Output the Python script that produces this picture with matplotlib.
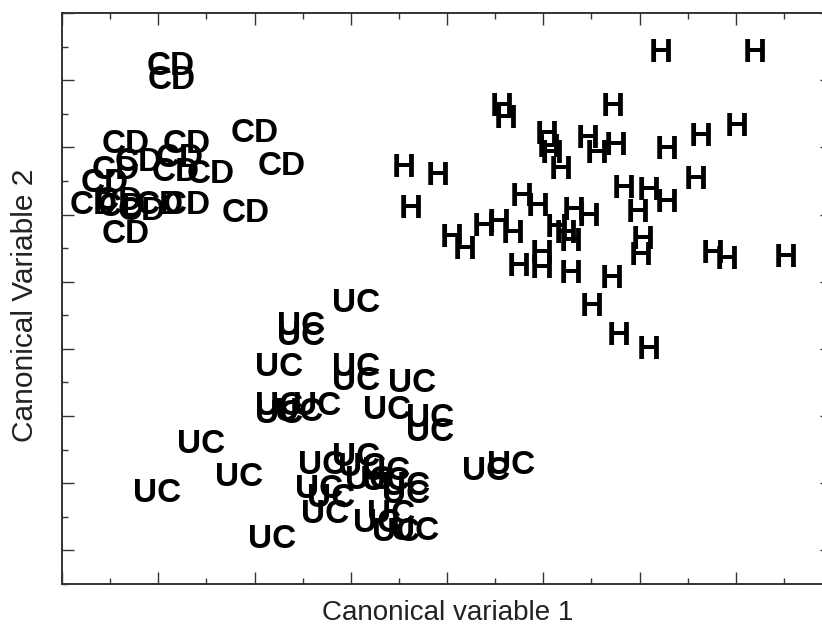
import matplotlib
matplotlib.use("Agg")
import matplotlib.pyplot as plt
from matplotlib.ticker import MultipleLocator

plt.rcParams['font.family'] = ['Liberation Sans', 'DejaVu Sans']

# canonical scores per group (variable 1, variable 2)
cd_x = [-2.87, -2.86, -2.00, -1.72, -2.09, -3.34, -2.70, -2.78, -3.20, -2.82,
        -2.45, -3.44, -3.56, -3.67, -3.41, -3.38, -3.17, -2.70, -3.34, -2.99]
cd_y = [3.21, 2.99, 2.20, 1.72, 1.02, 2.04, 2.04, 1.84, 1.77, 1.62,
        1.59, 1.65, 1.46, 1.14, 1.20, 1.11, 1.04, 1.14, 0.70, 1.13]

h_x = [2.22, 3.20, 0.57, 0.61, 1.72, 3.01, 2.64, 2.28, 1.75, 1.46,
       1.56, 1.04, 1.06, 1.09, 1.18, -0.45, -0.10, -0.38, 2.59, 1.84,
       2.10, 2.28, 1.98, 2.03, 2.01, 0.78, 0.94, 1.32, 1.47, 0.38,
       0.54, 0.68, 0.05, 0.18, 1.14, 1.23, 1.29, 0.99, 0.75, 0.98,
       1.29, 2.76, 2.91, 3.52, 1.71, 1.50, 1.78, 2.10]
h_y = [3.39, 3.39, 2.60, 2.41, 2.59, 2.30, 2.14, 1.96, 2.01, 2.11,
       1.89, 2.17, 1.99, 1.90, 1.66, 1.68, 1.57, 1.07, 1.51, 1.38,
       1.34, 1.16, 1.01, 0.61, 0.38, 1.25, 1.11, 1.05, 0.96, 0.80,
       0.86, 0.70, 0.64, 0.47, 0.79, 0.71, 0.58, 0.41, 0.21, 0.18,
       0.10, 0.41, 0.32, 0.34, 0.03, -0.38, -0.81, -1.02]

uc_x = [-0.95, -1.52, -1.52, -1.74, -0.95, -0.95, -0.36, -1.74, -1.74, -1.54,
        -1.35, -0.62, -0.18, -0.18, -2.56, -2.16, -3.01, -1.82, -1.30, -0.95,
        -0.88, -0.63, -0.63, -0.43, -0.43, -1.33, -1.20, -1.27, -0.73, -0.58,
        -0.33, 0.41, 0.67, -0.81, -0.53]
uc_y = [-0.33, -0.66, -0.82, -1.28, -1.27, -1.49, -1.52, -1.86, -1.98, -1.95,
        -1.86, -1.92, -2.04, -2.25, -2.43, -2.91, -3.16, -3.84, -2.73, -2.61,
        -2.77, -2.83, -2.98, -3.05, -3.17, -3.10, -3.23, -3.47, -3.60, -3.46,
        -3.72, -2.83, -2.74, -2.96, -3.74]

groups = [('CD', cd_x, cd_y), ('H', h_x, h_y), ('UC', uc_x, uc_y)]

fig = plt.figure(figsize=(8.22, 6.28), dpi=100)
ax = fig.add_axes([62 / 822, 44 / 628, 770 / 822, 571 / 628])

for label, xs, ys in groups:
    for x, y in zip(xs, ys):
        ax.text(x, y, label, ha='center', va='center', fontsize=24,
                fontweight='bold', color='black')

ax.set_xlim(-4, 4)
ax.set_ylim(-4.5, 4)
ax.xaxis.set_major_locator(MultipleLocator(1))
ax.xaxis.set_minor_locator(MultipleLocator(0.5))
ax.yaxis.set_major_locator(MultipleLocator(1))
ax.yaxis.set_minor_locator(MultipleLocator(0.5))
ax.tick_params(which='both', direction='in', top=True, right=True,
               labelbottom=False, labelleft=False, color='#333333')
ax.tick_params(which='major', length=8.5, width=1.0)
ax.tick_params(which='minor', length=4.5, width=1.0)
for sp in ax.spines.values():
    sp.set_linewidth(1.4)
    sp.set_color('#333333')

fig.text(448 / 822, 1 - 613 / 628, 'Canonical variable 1', ha='center',
         va='center', fontsize=20, color='#222222')
fig.text(25 / 822, 1 - 305 / 628, 'Canonical Variable 2', ha='center',
         va='center', rotation=90, fontsize=21.5, color='#222222')

fig.savefig('out.png', dpi=100)
